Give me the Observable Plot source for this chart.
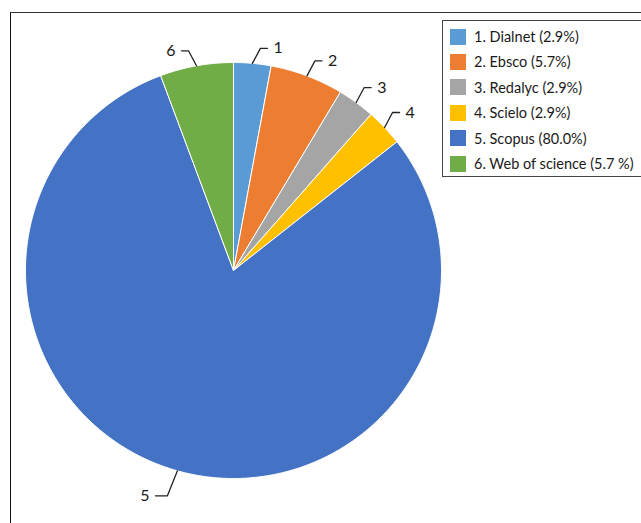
<!DOCTYPE html>
<html>
<head>
<meta charset="utf-8">
<script src="https://cdn.jsdelivr.net/npm/d3@7"></script>
<script src="https://cdn.jsdelivr.net/npm/@observablehq/plot@0.6"></script>
<style>
  html, body { margin: 0; padding: 0; background: #fff; }
  #wrap { position: relative; width: 641px; height: 523px; overflow: hidden; font-family: Lato, "Open Sans", sans-serif; }
  #frame { position: absolute; left: 10px; top: 12px; width: 700px; height: 600px; border-left: 1.5px solid #111; border-top: 1.5px solid #333; }
  #chart { position: absolute; left: 0; top: 0; }
  #legend { position: absolute; left: 442px; top: 20px; width: 230px; height: 157px; border: 1px solid #444; box-sizing: border-box; }
  .item { position: absolute; left: 7px; height: 17px; display: flex; align-items: center; font-size: 14.5px; color: #1a1a1a; white-space: nowrap; }
  .sw { width: 16px; height: 16px; margin-right: 8px; flex: none; }
</style>
</head>
<body>
<div id="wrap">
  <div id="frame"></div>
  <div id="chart"></div>
  <div id="legend"></div>
</div>
<script>
const names = ["Dialnet", "Ebsco", "Redalyc", "Scielo", "Scopus", "Web of science"];
const numbers = ["1", "2", "3", "4", "5", "6"];
const values = [2.9, 5.7, 2.9, 2.9, 80.0, 5.7];
const legendLabels = ["1. Dialnet (2.9%)", "2. Ebsco (5.7%)", "3. Redalyc (2.9%)", "4. Scielo (2.9%)", "5. Scopus (80.0%)", "6. Web of science (5.7 %)"];
const colors = ["#5B9BD5", "#ED7D31", "#A5A5A5", "#FFC000", "#4472C4", "#70AD47"];

const W = 641, H = 523;
const R = 208; // pixel radius, used only to convert pixel offsets to data units

const pie = d3.pie().sort(null).value(d => d)(values);

// slice polygons in unit-circle data space (angle clockwise from top)
const polys = [];
pie.forEach((p, i) => {
  const n = Math.max(4, Math.ceil((p.endAngle - p.startAngle) / (Math.PI / 360)));
  polys.push({name: names[i], x: 0, y: 0, k: 0});
  for (let j = 0; j <= n; j++) {
    const a = p.startAngle + (p.endAngle - p.startAngle) * j / n;
    polys.push({name: names[i], x: Math.sin(a), y: Math.cos(a), k: j + 1});
  }
  polys.push({name: names[i], x: 0, y: 0, k: n + 2});
});

// leader lines and labels
const leaders = [];
const labels = [];
pie.forEach((p, i) => {
  const a = (p.startAngle + p.endAngle) / 2;
  const sx = Math.sin(a), cy = Math.cos(a);
  const s = sx >= 0 ? 1 : -1;
  const v = cy >= 0 ? 1 : -1;
  const e = {x: sx, y: cy};
  const elbow = {x: sx + s * (v > 0 ? 8 : 10) / R, y: cy + v * (v > 0 ? 15 : 25) / R};
  const end = {x: elbow.x + s * (v > 0 ? 7 : 12) / R, y: elbow.y};
  leaders.push({name: names[i], ...e}, {name: names[i], ...elbow}, {name: names[i], ...end});
  labels.push({label: numbers[i], x: end.x, y: end.y, anchor: s > 0 ? "start" : "end"});
});

const chart = Plot.plot({
  width: W,
  height: H,
  marginLeft: 25,
  marginRight: W - 441,
  marginTop: 62,
  marginBottom: H - 478,
  x: {domain: [-1, 1], axis: null},
  y: {domain: [-1, 1], axis: null},
  color: {domain: names, range: colors},
  style: {background: "transparent", overflow: "visible"},
  marks: [
    Plot.line(polys, {x: "x", y: "y", z: "name", fill: "name", stroke: "#fff", strokeWidth: 1, strokeLinejoin: "round", curve: "linear"}),
    Plot.line(leaders, {x: "x", y: "y", z: "name", stroke: "#222", strokeWidth: 1.3}),
    Plot.text(labels.filter(d => d.anchor === "start"), {x: "x", y: "y", text: "label", textAnchor: "start", dx: 6, fontSize: 16, fill: "#1a1a1a", fontFamily: "Lato, sans-serif"}),
    Plot.text(labels.filter(d => d.anchor === "end"), {x: "x", y: "y", text: "label", textAnchor: "end", dx: -6, fontSize: 16, fill: "#1a1a1a", fontFamily: "Lato, sans-serif"})
  ]
});
document.getElementById("chart").appendChild(chart);

const legend = document.getElementById("legend");
legendLabels.forEach((t, i) => {
  const it = document.createElement("div");
  it.className = "item";
  it.style.top = (7 + i * 25.4) + "px";
  const sw = document.createElement("span");
  sw.className = "sw";
  sw.style.background = colors[i];
  const tx = document.createElement("span");
  tx.textContent = t;
  it.appendChild(sw);
  it.appendChild(tx);
  legend.appendChild(it);
});
</script>
</body>
</html>
